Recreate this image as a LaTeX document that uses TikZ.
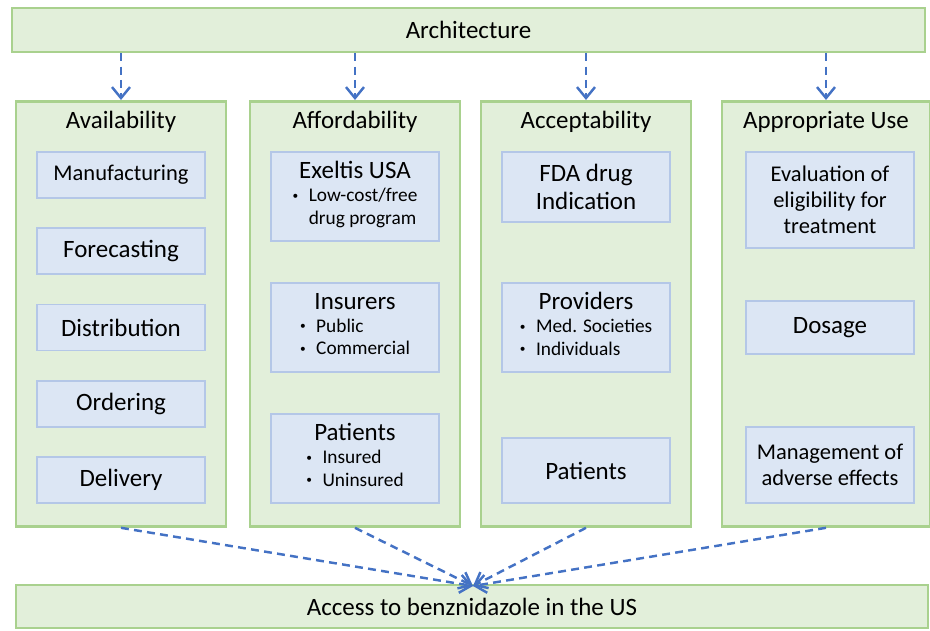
\documentclass[tikz,border=0pt]{standalone}
\usepackage{fontspec}
\setmainfont{Carlito}
\usepackage{xcolor}
\usetikzlibrary{arrows.meta, positioning}

\definecolor{pillarfill}{HTML}{E2EFDA}
\definecolor{pillardraw}{HTML}{A9D18E}
\definecolor{itemfill}{HTML}{DCE6F4}
\definecolor{itemdraw}{HTML}{B4C7E7}
\definecolor{linkblue}{HTML}{4472C4}

\tikzset{
    banner/.style={
        rectangle,
        draw=pillardraw,
        fill=pillarfill,
        line width=1.6pt,
        minimum width=18.26cm,
        minimum height=0.88cm,
        font=\fontsize{14.2}{16}\selectfont
    },
    pillar/.style={
        rectangle,
        draw=pillardraw,
        fill=pillarfill,
        line width=1.6pt,
        minimum width=4.2cm,
        minimum height=8.5cm,
        anchor=north
    },
    pillartitle/.style={
        font=\fontsize{14.2}{16}\selectfont,
        inner sep=0pt
    },
    item/.style={
        rectangle,
        draw=itemdraw,
        fill=itemfill,
        line width=0.8pt,
        minimum width=3.36cm,
        align=center,
        inner sep=2pt,
        font=\fontsize{14.2}{16}\selectfont
    },
    smallitem/.style={
        font=\fontsize{12.8}{14.8}\selectfont
    },
    link/.style={
        draw=linkblue,
        line width=1.4pt,
        dash pattern=on 4.5pt off 3pt,
        -{Straight Barb[length=2.2mm,width=3.6mm,line width=1.4pt]}
    }
}

% small bullet and bullet list inside an item box
\newcommand{\bl}{\raisebox{1.5pt}{\fontsize{6.5}{7}\selectfont\textbullet}}
\newcommand{\blist}[1]{{\fontsize{11}{13}\selectfont\begin{tabular}[t]{@{}c@{\hspace{6pt}}l@{}}#1\end{tabular}}}

\begin{document}
\begin{tikzpicture}

\useasboundingbox (0,0) rectangle (18.6,-12.6);

% Architecture banner
\node[banner] (arch) at (9.37,-0.6) {Architecture};

% The four pillars
\node[pillar] (avail)  at (2.42,-2.0) {};
\node[pillar] (afford) at (7.1,-2.0) {};
\node[pillar] (accept) at (11.72,-2.0) {};
\node[pillar, minimum width=4.16cm] (approp) at (16.52,-2.0) {};

\node[pillartitle] (availt)  at (2.42,-2.44) {Availability};
\node[pillartitle] (affordt) at (7.1,-2.44) {Affordability};
\node[pillartitle] (acceptt) at (11.72,-2.44) {Acceptability};
\node[pillartitle] (appropt) at (16.52,-2.44) {Appropriate Use};

% Availability items
\node[item, smallitem, minimum height=0.92cm] (manuf) at (2.42,-3.5) {Manufacturing};
\node[item, minimum height=0.92cm] (fore)  at (2.42,-5.02) {Forecasting};
\node[item, minimum height=0.92cm] (distr) at (2.42,-6.55) {Distribution};
\node[item, minimum height=0.92cm] (order) at (2.42,-8.08) {Ordering};
\node[item, minimum height=0.92cm] (deliv) at (2.42,-9.6) {Delivery};

% Affordability items
\node[item, minimum height=1.78cm] (exeltis) at (7.1,-3.93)
    {Exeltis USA\\[-3pt]\blist{\bl & Low-cost/free\\ & drug program}};
\node[item, minimum height=1.78cm] (insur) at (7.1,-6.55)
    {Insurers\\[-3pt]\blist{\bl & Public\\ \bl & Commercial}};
\node[item, minimum height=1.78cm] (patA) at (7.1,-9.17)
    {Patients\\[-3pt]\blist{\bl & Insured\\ \bl & Uninsured}};

% Acceptability items
\node[item, minimum height=1.4cm] (fda) at (11.72,-3.74) {FDA drug\\Indication};
\node[item, minimum height=1.78cm] (prov) at (11.72,-6.55)
    {Providers\\[-3pt]\blist{\bl & Med. Societies\\ \bl & Individuals}};
\node[item, minimum height=1.3cm] (patB) at (11.72,-9.41) {Patients};

% Appropriate use items
\node[item, smallitem, minimum height=1.92cm] (elig) at (16.6,-4.0)
    {Evaluation of\\eligibility for\\treatment};
\node[item, minimum height=1.06cm] (dose) at (16.6,-6.55) {Dosage};
\node[item, smallitem, minimum height=1.52cm] (adv) at (16.6,-9.3)
    {Management of\\adverse effects};

% Outcome banner
\node[banner, minimum width=18.24cm, minimum height=0.86cm] (access) at (9.44,-12.13)
    {Access to benznidazole in the US};
\coordinate (meet) at (9.46,-11.72);

% Arrows from architecture down to the pillars
\foreach \p in {avail, afford, accept, approp}
    \draw[link] (arch.south -| \p.north) -- (\p.north);

% Arrows from the pillars into the outcome
\foreach \p in {avail, afford, accept, approp}
    \draw[link] (\p.south) -- (meet);

\end{tikzpicture}
\end{document}
